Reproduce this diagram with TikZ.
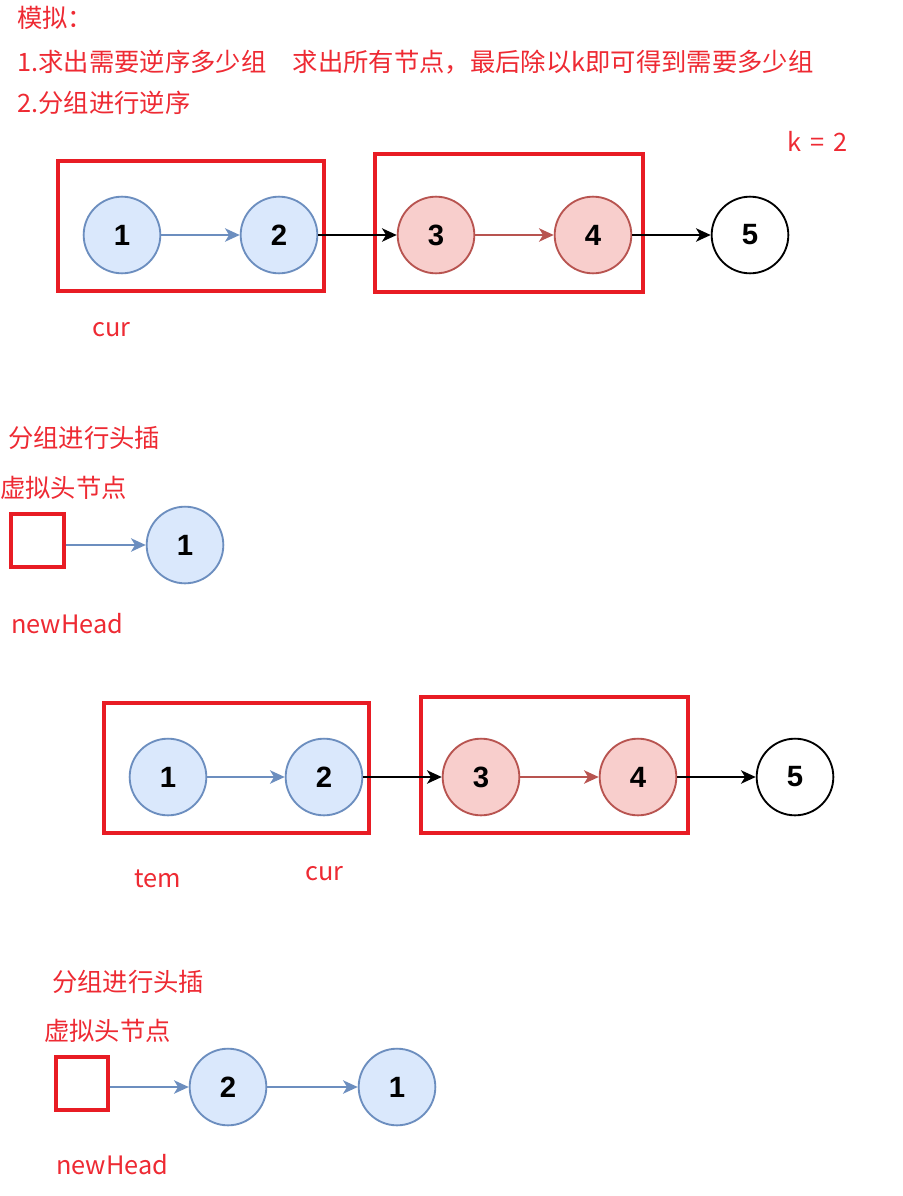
\documentclass[tikz,border=0pt]{standalone}
\usepackage{fontspec}
\setmainfont{Noto Sans CJK SC}
\newfontfamily\numfont{Liberation Sans}
\usetikzlibrary{arrows.meta,fit}
\definecolor{txtred}{HTML}{EE2A33}
\definecolor{boxred}{HTML}{E81C24}
\definecolor{bfill}{HTML}{DAE8FC}
\definecolor{bline}{HTML}{6C8EBF}
\definecolor{rfill}{HTML}{F8CECC}
\definecolor{rline}{HTML}{B85450}
\tikzset{
  lbl/.style={text=txtred, font=\fontsize{19}{22}\selectfont, inner sep=0pt, anchor=west},
  nodebase/.style={circle, minimum size=57.5pt, inner sep=0pt, line width=1.4pt, font=\numfont\bfseries\fontsize{22}{24}\selectfont},
  bnode/.style={nodebase, draw=bline, fill=bfill},
  rnode/.style={nodebase, draw=rline, fill=rfill},
  wnode/.style={nodebase, draw=black, fill=white},
  redbox/.style={draw=boxred, line width=3pt, inner sep=0pt},
  tip/.style={-{Stealth[length=11pt,width=10pt,inset=3pt]}, line width=1.6pt},
  barrow/.style={tip, draw=bline},
  rarrow/.style={tip, draw=rline},
  karrow/.style={tip, draw=black},
}
\begin{document}
\begin{tikzpicture}[x=0.75pt,y=-0.75pt]
\useasboundingbox (0,0) rectangle (903,1196);
\fill[white] (0,0) rectangle (903,1196);

% header text
\node[lbl] (h0) at (17,18) {模拟：};
\node[lbl] (h1) at (17,62) {1.求出需要逆序多少组\hspace{1.05em}求出所有节点，最后除以k即可得到需要多少组};
\node[lbl] (h2) at (17,103) {2.分组进行逆序};
\node[lbl] (k) at (787,141) {k\hspace{0.35em}=\hspace{0.35em}2};

% row 1
\node[redbox, fit={(58,161) (324,291)}] (g1) {};
\node[redbox, fit={(375,154) (643,292)}] (g2) {};
\node[bnode] (a1) at (122,235) {1};
\node[bnode] (a2) at (279,235) {2};
\node[rnode] (a3) at (436,235) {3};
\node[rnode] (a4) at (593,235) {4};
\node[wnode] (a5) at (750,235) {5};
\draw[barrow] (a1) -- (a2);
\draw[karrow] (a2) -- (a3);
\draw[rarrow] (a3) -- (a4);
\draw[karrow] (a4) -- (a5);
\node[lbl] (cur1) at (92,330) {cur};

% section 2
\node[lbl] (s2a) at (8,438) {分组进行头插};
\node[lbl] (s2b) at (0,488) {虚拟头节点};
\node[redbox, fit={(11,514) (64,567)}] (nh1) {};
\node[bnode] (b1) at (185,545) {1};
\draw[barrow] (nh1.east |- b1.west) -- (b1.west);
\node[lbl] (nhl1) at (11,624) {newHead};

% row 3
\node[redbox, fit={(104,703) (369,833)}] (g3) {};
\node[redbox, fit={(421,697) (688,833)}] (g4) {};
\node[bnode] (c1) at (168,777) {1};
\node[bnode] (c2) at (324,777) {2};
\node[rnode] (c3) at (481,777) {3};
\node[rnode] (c4) at (638,777) {4};
\node[wnode] (c5) at (795,777) {5};
\draw[barrow] (c1) -- (c2);
\draw[karrow] (c2) -- (c3);
\draw[rarrow] (c3) -- (c4);
\draw[karrow] (c4) -- (c5);
\node[lbl] (tem) at (134,879) {tem};
\node[lbl] (cur2) at (305,874) {cur};

% section 4
\node[lbl] (s4a) at (52,982) {分组进行头插};
\node[lbl] (s4b) at (44,1031) {虚拟头节点};
\node[redbox, fit={(56,1057) (108,1110)}] (nh2) {};
\node[bnode] (d2) at (228,1087) {2};
\node[bnode] (d1) at (397,1087) {1};
\draw[barrow] (nh2.east |- d2.west) -- (d2.west);
\draw[barrow] (d2) -- (d1);
\node[lbl] (nhl2) at (56,1165) {newHead};
\end{tikzpicture}
\end{document}
